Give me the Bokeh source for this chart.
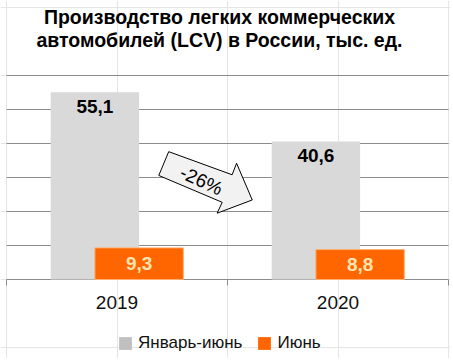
from bokeh.plotting import figure
from bokeh.models import (Range1d, FixedTicker, Grid, Legend, LegendItem, Span)
from bokeh.core.properties import value
from bokeh.embed import file_html
from bokeh.resources import INLINE

# ---- data ----
years = ["2019", "2020"]
jan_jun = [55.1, 40.6]
june = [9.3, 8.8]
jan_jun_labels = ["55,1", "40,6"]
june_labels = ["9,3", "8,8"]
change_label = "-26%"
series_names = ["Январь-июнь", "Июнь"]
title_lines = ["Производство легких коммерческих",
               "автомобилей (LCV) в России, тыс. ед."]
grid_values = [10, 20, 30, 40, 50, 60]

GRAY = "#D9D9D9"
GRAY_LEG = "#C0C0C0"
ORANGE = "#FF6600"
GRID = "#8C8C8C"
FONT = "Liberation Sans"

# ---- layout geometry (pixels) ----
W, H = 450, 358          # figure size
AXIS_PX = 279            # distance of the value-0 line from the figure top
PX_PER_UNIT = 3.4        # vertical pixels per 1 thousand units
LEFT_PX = 6              # left edge of the category axis
PX_PER_CAT = 221         # width of one category


def py(px_from_top):
    """pixel distance from figure top -> data y"""
    return (AXIS_PX - px_from_top) / PX_PER_UNIT


def px(px_from_left):
    return (px_from_left - LEFT_PX) / PX_PER_CAT


n = len(years)
idx = list(range(n))
x_gray = [i + 0.4 for i in idx]
x_orange = [i + 0.6 for i in idx]

p = figure(width=W, height=H, output_backend="svg", toolbar_location=None,
           x_range=Range1d(px(0), px(W)), y_range=Range1d(py(H), py(0)),
           x_axis_location=None, y_axis_location=None,
           min_border_left=0, min_border_right=0, min_border_top=0,
           min_border_bottom=0)
p.outline_line_color = None
p.background_fill_color = "white"
p.border_fill_color = "white"

# horizontal grid lines (span the category area only)
p.segment(x0=0, x1=n, y0=grid_values, y1=grid_values, line_color=GRID, line_width=1)

# category axis: base line, boundary ticks, labels
p.segment(x0=[0], x1=[n], y0=[0], y1=[0], line_color=GRID, line_width=1)
p.segment(x0=list(range(n + 1)), x1=list(range(n + 1)), y0=0, y1=-6 / PX_PER_UNIT,
          line_color=GRID, line_width=1)
p.text(x=[i + 0.5 for i in idx], y=0, text=years, y_offset=23,
       text_align="center", text_baseline="middle", text_font=value(FONT),
       text_font_size="19px", text_color="#111111")

# bars
r_gray = p.vbar(x=x_gray, top=jan_jun, width=0.4, fill_color=GRAY, line_color=None)
r_or = p.vbar(x=x_orange, top=june, width=0.4, fill_color=ORANGE,
              line_color="#FFB070", line_width=1)

# value labels
p.text(x=x_gray, y=jan_jun, text=jan_jun_labels, text_align="center",
       text_baseline="top", y_offset=8, text_font=value(FONT),
       text_font_size="19px", text_font_style="bold", text_color="black")
p.text(x=x_orange, y=[v / 2 for v in june], text=june_labels, text_align="center",
       text_baseline="middle", text_font=value(FONT), text_font_size="19px",
       text_font_style="bold", text_color="#FFE3B0")

# change arrow (annotation shape)
ax = [0.734, 1.021, 1.041, 1.112, 0.953, 0.976, 0.689]
ay = [37.6, 30.8, 34.2, 23.4, 19.5, 22.7, 30.6]
p.patch(ax, ay, fill_color="#F2F2F2", line_color="black", line_width=1)
p.text(x=[0.882], y=[29.1], text=[change_label], angle=-0.43,
       text_align="center", text_baseline="middle", text_font=value(FONT),
       text_font_size="19px", text_color="black")

# title (two centred lines)
p.text(x=[px(219)] * 2, y=[py(16.5), py(39)], text=title_lines,
       text_align="center", text_baseline="middle", text_font=value(FONT),
       text_font_size="19.5px", text_font_style="bold", text_color="black")

# legend swatches: zero-height bars used only for their colours
d1 = p.vbar(x=[0.5], top=[0], bottom=[0], width=0.01, fill_color=GRAY_LEG, line_color=None)
d2 = p.vbar(x=[0.5], top=[0], bottom=[0], width=0.01, fill_color=ORANGE, line_color=None)
legend = Legend(items=[LegendItem(label=series_names[0], renderers=[d1]),
                       LegendItem(label=series_names[1], renderers=[d2])],
                orientation="horizontal", location=(117, 5),
                label_text_font=FONT, label_text_font_size="17px",
                label_text_color="#111111",
                label_height=16, glyph_width=16, glyph_height=16,
                label_standoff=5, spacing=14,
                border_line_color=None, background_fill_alpha=0,
                margin=0, padding=0)
p.add_layout(legend)

open("out.html", "w").write(file_html(p, INLINE))
